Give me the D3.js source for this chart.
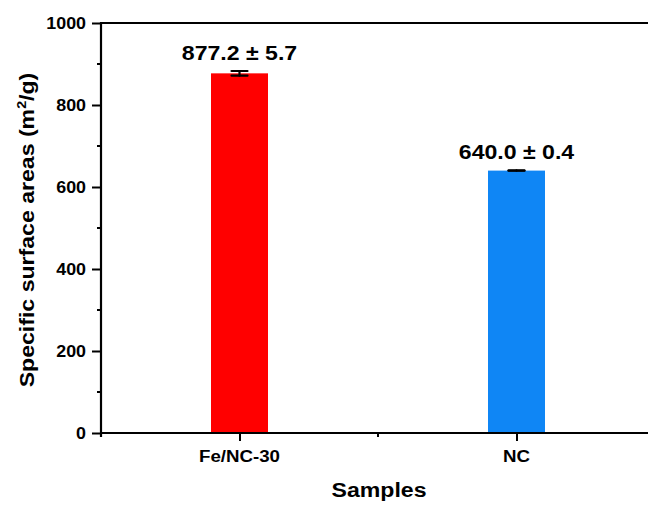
<!DOCTYPE html>
<html>
<head>
<meta charset="utf-8">
<script src="https://cdn.jsdelivr.net/npm/d3@7"></script>
<style>
  html, body { margin: 0; padding: 0; background: #ffffff; }
  svg { display: block; font-family: "Liberation Sans", Arial, Helvetica, sans-serif; font-weight: bold; }
</style>
</head>
<body>
<svg id="chart" width="648" height="506"></svg>
<script>
// Specific surface areas (BET) of the two samples, with standard deviations
const categories = ["Fe/NC-30", "NC"];
const values = [877.2, 640.0];
const errors = [5.7, 0.4];
const valueLabels = ["877.2 ± 5.7", "640.0 ± 0.4"];
const barColors = ["#ff0000", "#0f86f5"];
const yMajorTicks = [0, 200, 400, 600, 800, 1000];
const yMinorTicks = [100, 300, 500, 700, 900];

const svg = d3.select("#chart");
const W = 648, H = 506;
const plotLeft = 101, plotTop = 23, plotBottom = 433, plotRight = 655;
const SX = 1.1; // horizontal stretch applied to text

const y = d3.scaleLinear().domain([0, 1000]).range([plotBottom, plotTop]);
const x = d3.scalePoint().domain(categories).range([plotLeft, plotRight]).padding(0.5);
const barW = 57;

svg.append("rect").attr("width", W).attr("height", H).attr("fill", "#ffffff");

function label(g, tx, ty, text, size, anchor, sx) {
  return g.append("text")
    .attr("transform", `translate(${tx},${ty}) scale(${sx || SX},1)`)
    .attr("text-anchor", anchor || "middle")
    .attr("font-size", size)
    .attr("fill", "#000")
    .text(text);
}

// bars
svg.append("g").selectAll("rect").data(categories).join("rect")
  .attr("x", d => x(d) - barW / 2)
  .attr("width", barW)
  .attr("y", (d, i) => y(values[i]))
  .attr("height", (d, i) => y(0) - y(values[i]))
  .attr("fill", (d, i) => barColors[i]);

// error bars
const eb = svg.append("g").attr("stroke", "#000").attr("stroke-width", 2.2).attr("stroke-linecap", "round");
categories.forEach((c, i) => {
  const cx = x(c), capW = 8;
  const yHi = y(values[i] + errors[i]), yLo = y(values[i] - errors[i]);
  eb.append("line").attr("x1", cx).attr("x2", cx).attr("y1", yHi).attr("y2", yLo);
  eb.append("line").attr("x1", cx - capW).attr("x2", cx + capW).attr("y1", yHi).attr("y2", yHi);
  eb.append("line").attr("x1", cx - capW).attr("x2", cx + capW).attr("y1", yLo).attr("y2", yLo);
});

// value labels above bars
const vl = svg.append("g");
categories.forEach((c, i) => {
  label(vl, x(c), y(values[i] + errors[i]) - 11, valueLabels[i], 21);
});

// y axis
const yAxis = d3.axisLeft(y).tickValues(yMajorTicks).tickSize(9).tickPadding(5).tickFormat(d3.format("d"));
const ya = svg.append("g").attr("transform", `translate(${plotLeft},0)`).call(yAxis);
ya.select(".domain").remove();
ya.selectAll(".tick line").attr("stroke", "#000").attr("stroke-width", 2);
ya.selectAll(".tick text").remove();
yMajorTicks.forEach(v => label(ya, -15, y(v) + 6, String(v), 17, "end", 1.05));
ya.selectAll(".minor").data(yMinorTicks).join("line")
  .attr("x1", -4).attr("x2", 0)
  .attr("y1", d => y(d)).attr("y2", d => y(d))
  .attr("stroke", "#000").attr("stroke-width", 2);
ya.append("line").attr("x1", 0).attr("x2", 0).attr("y1", plotTop - 1).attr("y2", plotBottom + 4)
  .attr("stroke", "#000").attr("stroke-width", 2.2);

// x axis
const xAxis = d3.axisBottom(x).tickSize(8).tickSizeOuter(0);
const xa = svg.append("g").attr("transform", `translate(0,${plotBottom})`).call(xAxis);
xa.select(".domain").remove();
xa.selectAll(".tick line").attr("stroke", "#000").attr("stroke-width", 2);
xa.selectAll(".tick text").remove();
categories.forEach(c => label(xa, x(c), 29, c, 17));
const step = x.step();
xa.append("line").attr("x1", x(categories[0]) + step / 2).attr("x2", x(categories[0]) + step / 2)
  .attr("y1", 0).attr("y2", 4).attr("stroke", "#000").attr("stroke-width", 2);
xa.append("line").attr("x1", plotLeft - 1).attr("x2", plotRight).attr("y1", 0).attr("y2", 0)
  .attr("stroke", "#000").attr("stroke-width", 2.2);

// top frame line
svg.append("line").attr("x1", plotLeft - 1).attr("x2", plotRight).attr("y1", plotTop).attr("y2", plotTop)
  .attr("stroke", "#000").attr("stroke-width", 2.2);

// axis titles
label(svg, 379, 497, "Samples", 21);
const yt = svg.append("text")
  .attr("transform", `translate(34,${(plotTop + plotBottom) / 2 + 2}) rotate(-90) scale(${SX},1)`)
  .attr("text-anchor", "middle")
  .attr("font-size", 21)
  .attr("fill", "#000");
yt.append("tspan").text("Specific surface areas (m");
yt.append("tspan").attr("font-size", 13).attr("dy", -8).text("2");
yt.append("tspan").attr("dy", 8).text("/g)");
</script>
</body>
</html>
